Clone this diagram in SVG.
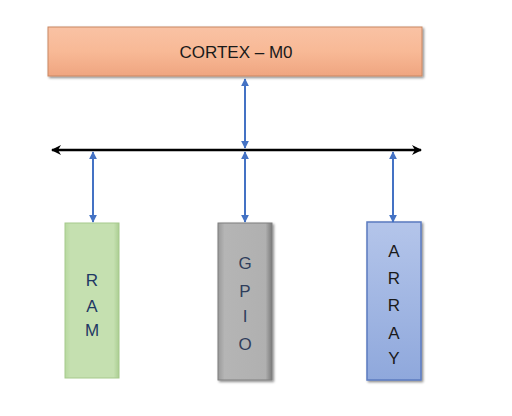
<svg xmlns="http://www.w3.org/2000/svg" width="512" height="416" viewBox="0 0 512 416">
<style>
.blue{stroke:#4472C4;stroke-width:2;fill:none}
.bus{stroke:#000;stroke-width:2.5;fill:none}
.lbl{font-family:"Liberation Sans",Arial,sans-serif;font-size:17px;text-anchor:middle}
</style>
<defs>
<marker id="ab" viewBox="0 0 10 10" refX="9" refY="5" markerWidth="4" markerHeight="4" orient="auto-start-reverse" markerUnits="strokeWidth"><path d="M0,0 L10,5 L0,10 z" fill="#4472C4"/></marker>
<marker id="ak" viewBox="0 0 10 10" refX="9" refY="5" markerWidth="4" markerHeight="4" orient="auto-start-reverse" markerUnits="strokeWidth"><path d="M0,0 L10,5 L0,10 L3,5 z" fill="#000"/></marker>
<linearGradient id="gOr" x1="0" y1="0" x2="0" y2="1"><stop offset="0" stop-color="#F9C2A4"/><stop offset="0.5" stop-color="#F8B996"/><stop offset="1" stop-color="#EFA580"/></linearGradient>
<linearGradient id="gGr" x1="0" y1="0" x2="1" y2="0"><stop offset="0" stop-color="#B7D99F"/><stop offset="0.1" stop-color="#C5E0B0"/><stop offset="0.9" stop-color="#C5E0B0"/><stop offset="1" stop-color="#ABCE92"/></linearGradient>
<linearGradient id="gGy" x1="0" y1="0" x2="1" y2="0"><stop offset="0" stop-color="#999"/><stop offset="0.12" stop-color="#B5B5B5"/><stop offset="0.88" stop-color="#B0B0B0"/><stop offset="1" stop-color="#7a7a7a"/></linearGradient>
<linearGradient id="gBl" x1="0" y1="0" x2="0" y2="1"><stop offset="0" stop-color="#B4C5EA"/><stop offset="1" stop-color="#8FA8DC"/></linearGradient>
<filter id="sh" x="-20%" y="-20%" width="140%" height="140%"><feDropShadow dx="1.5" dy="1.5" stdDeviation="1.2" flood-color="#000" flood-opacity="0.45"/></filter>
</defs>
<g id="cortex">
<rect x="48" y="27" width="374" height="49" fill="url(#gOr)" stroke="#C98762" stroke-width="1" filter="url(#sh)"/>
<text class="lbl" x="236" y="58" fill="#1a1a1a" font-size="16">CORTEX – M0</text>
</g>
<g id="ram">
<rect x="65" y="223" width="54" height="155" fill="url(#gGr)" stroke="#A6C98C" stroke-width="1"/>
<text class="lbl" fill="#1F3864" x="92" y="286">R</text>
<text class="lbl" fill="#1F3864" x="92" y="312">A</text>
<text class="lbl" fill="#1F3864" x="92" y="336">M</text>
</g>
<g id="gpio">
<rect x="218" y="223" width="54" height="157" fill="url(#gGy)" stroke="#7f7f7f" stroke-width="1" filter="url(#sh)"/>
<text class="lbl" fill="#2F3E5C" x="245" y="269">G</text>
<text class="lbl" fill="#2F3E5C" x="245" y="297">P</text>
<text class="lbl" fill="#2F3E5C" x="245" y="322">I</text>
<text class="lbl" fill="#2F3E5C" x="245" y="350">O</text>
</g>
<g id="array">
<rect x="367" y="222" width="54" height="158" fill="url(#gBl)" stroke="#5B7BC0" stroke-width="1.5" filter="url(#sh)"/>
<text class="lbl" fill="#1a1a1a" x="394" y="257">A</text>
<text class="lbl" fill="#1a1a1a" x="394" y="284">R</text>
<text class="lbl" fill="#1a1a1a" x="394" y="311">R</text>
<text class="lbl" fill="#1a1a1a" x="394" y="339">A</text>
<text class="lbl" fill="#1a1a1a" x="394" y="364">Y</text>
</g>
<g id="connectors">
<line class="bus" x1="52" y1="150" x2="421" y2="150" marker-start="url(#ak)" marker-end="url(#ak)"/>
<line class="blue" x1="245" y1="79" x2="245" y2="148" marker-start="url(#ab)" marker-end="url(#ab)"/>
<line class="blue" x1="93" y1="152" x2="93" y2="222" marker-start="url(#ab)" marker-end="url(#ab)"/>
<line class="blue" x1="245" y1="152" x2="245" y2="222" marker-start="url(#ab)" marker-end="url(#ab)"/>
<line class="blue" x1="393" y1="152" x2="393" y2="222" marker-start="url(#ab)" marker-end="url(#ab)"/>
</g>
</svg>
